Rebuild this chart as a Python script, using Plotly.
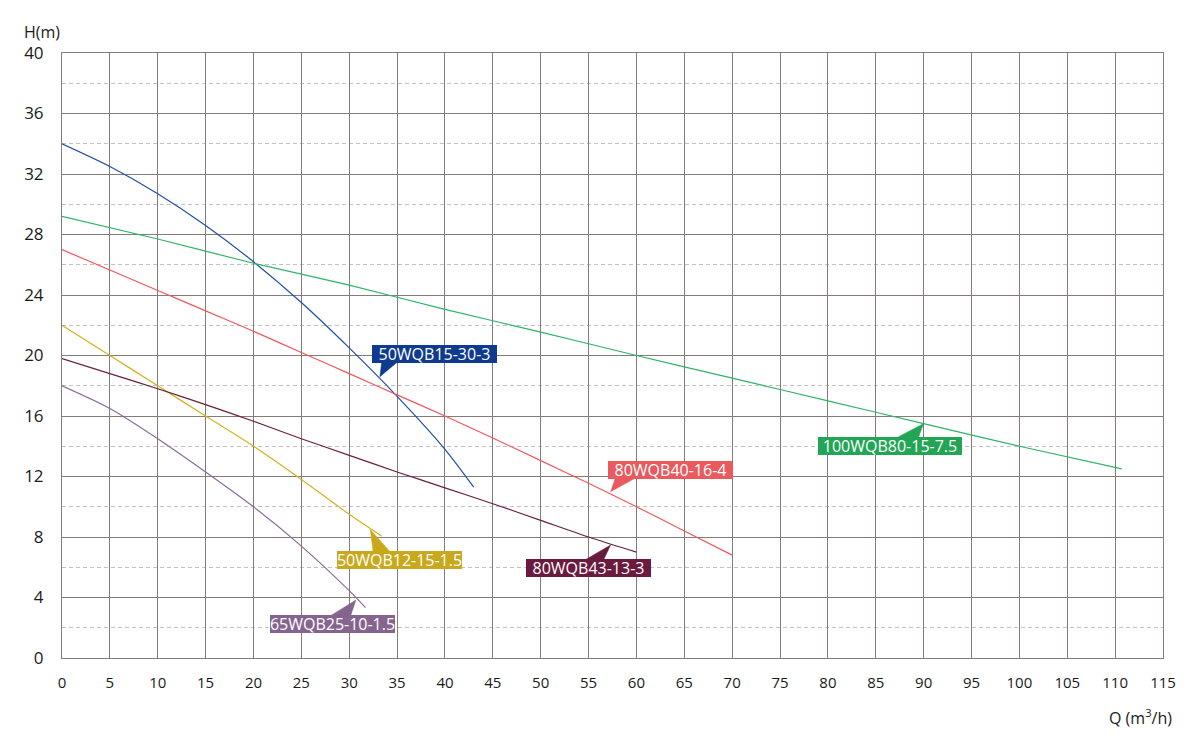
import plotly.graph_objects as go

# ---- data ----
q_50wqb15 = [0, 5, 10, 15, 20, 25, 30, 35, 40, 43]
h_50wqb15 = [34.0, 32.5, 30.7, 28.6, 26.2, 23.5, 20.5, 17.3, 13.8, 11.3]

q_100wqb80 = [0, 10, 20, 30, 40, 50, 60, 70, 80, 90, 100, 110.7]
h_100wqb80 = [29.2, 27.7, 26.1, 24.65, 23.05, 21.55, 20.0, 18.5, 17.0, 15.5, 14.0, 12.5]

q_80wqb40 = [0, 5, 10, 15, 20, 25, 30, 35, 40, 45, 50, 55, 60, 65, 70]
h_80wqb40 = [27.0, 25.65, 24.3, 22.95, 21.6, 20.2, 18.8, 17.4, 16.0, 14.55, 13.05, 11.55, 10.0, 8.4, 6.8]

q_50wqb12 = [0, 5, 10, 15, 20, 25, 30, 33.4]
h_50wqb12 = [22.0, 20.0, 18.0, 16.0, 14.0, 11.8, 9.5, 8.05]

q_80wqb43 = [0, 5, 10, 15, 20, 25, 30, 35, 40, 45, 50, 55, 60]
h_80wqb43 = [19.8, 18.8, 17.8, 16.75, 15.65, 14.5, 13.4, 12.3, 11.25, 10.2, 9.1, 8.0, 7.0]

q_65wqb25 = [0, 5, 10, 15, 20, 25, 30, 31.7]
h_65wqb25 = [18.0, 16.5, 14.5, 12.3, 10.0, 7.4, 4.45, 3.33]

x_ticks = list(range(0, 120, 5))
y_ticks = list(range(0, 44, 4))

series = [
    ("50WQB15-30-3", q_50wqb15, h_50wqb15, "#1F4EA8", "#0E3A90"),
    ("100WQB80-15-7.5", q_100wqb80, h_100wqb80, "#2DB565", "#22A655"),
    ("80WQB40-16-4", q_80wqb40, h_80wqb40, "#F0585A", "#E85A5E"),
    ("50WQB12-15-1.5", q_50wqb12, h_50wqb12, "#D4B21F", "#C9A91B"),
    ("80WQB43-13-3", q_80wqb43, h_80wqb43, "#6B1F3F", "#6A1A3D"),
    ("65WQB25-10-1.5", q_65wqb25, h_65wqb25, "#8B6A97", "#866490"),
]

# label layout: tip (Q,H), box centre (Q,H), wedge base Q1, Q2 at box edge H, box width px
label_layout = {
    "50WQB15-30-3":    dict(tip=(33.2, 18.6), box=(38.9, 20.13), base=(33.4, 35.1), edge=19.6, w=125),
    "80WQB40-16-4":    dict(tip=(57.3, 11.0), box=(63.6, 12.4), base=(57.8, 59.9), edge=11.9, w=125),
    "100WQB80-15-7.5": dict(tip=(90.0, 15.5), box=(86.5, 14.0), base=(87.0, 89.4), edge=14.5, w=144),
    "50WQB12-15-1.5":  dict(tip=(32.2, 8.5), box=(35.3, 6.5), base=(32.5, 34.3), edge=7.0, w=125),
    "80WQB43-13-3":    dict(tip=(57.3, 7.47), box=(55.0, 5.93), base=(54.4, 56.5), edge=6.4, w=125),
    "65WQB25-10-1.5":  dict(tip=(30.7, 3.83), box=(28.3, 2.24), base=(27.8, 30.1), edge=2.7, w=125),
}

label_font = "Open Sans, sans-serif"
tick_font = "Open Sans, sans-serif"

fig = go.Figure()
for name, qs, hs, lc, bc in series:
    fig.add_trace(go.Scatter(x=qs, y=hs, mode="lines", name=name,
                             line=dict(color=lc, width=1.2, shape="spline", smoothing=0.8),
                             showlegend=False, hoverinfo="skip"))

for name, qs, hs, lc, bc in series:
    L = label_layout[name]
    (tq, th), (b1, b2) = L["tip"], L["base"]
    fig.add_trace(go.Scatter(x=[tq, b1, b2, tq], y=[th, L["edge"], L["edge"], th],
                             mode="lines", fill="toself", fillcolor=bc,
                             line=dict(color=bc, width=0.5),
                             showlegend=False, hoverinfo="skip"))
    fig.add_annotation(x=L["box"][0], y=L["box"][1], xref="x", yref="y", text=name,
                       showarrow=False, bgcolor=bc, borderpad=0, borderwidth=0,
                       width=L["w"], height=18, align="center", valign="middle",
                       font=dict(family=label_font, size=16, color="white"))

fig.add_annotation(text="H(m)", xref="paper", yref="paper", x=-0.0363, y=1.035,
                   xanchor="left", yanchor="middle", showarrow=False,
                   font=dict(family=tick_font, size=16, color="#1a1a1a"))
fig.add_annotation(text="Q (m<sup>3</sup>/h)", xref="paper", yref="paper", x=1.01, y=-0.0975,
                   xanchor="right", yanchor="middle", showarrow=False,
                   font=dict(family=tick_font, size=16, color="#1a1a1a"))

grid_c = "#857b7b"
fig.update_xaxes(range=[0, 115], tickvals=x_ticks, ticktext=[str(v) for v in x_ticks],
                 showgrid=True, gridcolor=grid_c, gridwidth=1,
                 showline=True, linecolor=grid_c, linewidth=1, mirror=True,
                 zeroline=False, ticks="", ticklabelstandoff=11,
                 tickfont=dict(family=tick_font, size=15, color="#1a1a1a"))
fig.update_yaxes(range=[0, 40], tickvals=y_ticks, ticktext=[str(v) for v in y_ticks],
                 showgrid=True, gridcolor=grid_c, gridwidth=1,
                 showline=True, linecolor=grid_c, linewidth=1, mirror=True,
                 zeroline=False, ticks="", ticklabelstandoff=14,
                 minor=dict(dtick=2, tick0=0, showgrid=True, gridcolor="#c4c0c0",
                            griddash="4px,3px", gridwidth=1),
                 tickfont=dict(family=tick_font, size=17, color="#1a1a1a"))

fig.update_layout(width=1200, height=754, plot_bgcolor="white", paper_bgcolor="white",
                  margin=dict(l=54, r=45, t=45, b=104))

fig.write_html("out.html")
